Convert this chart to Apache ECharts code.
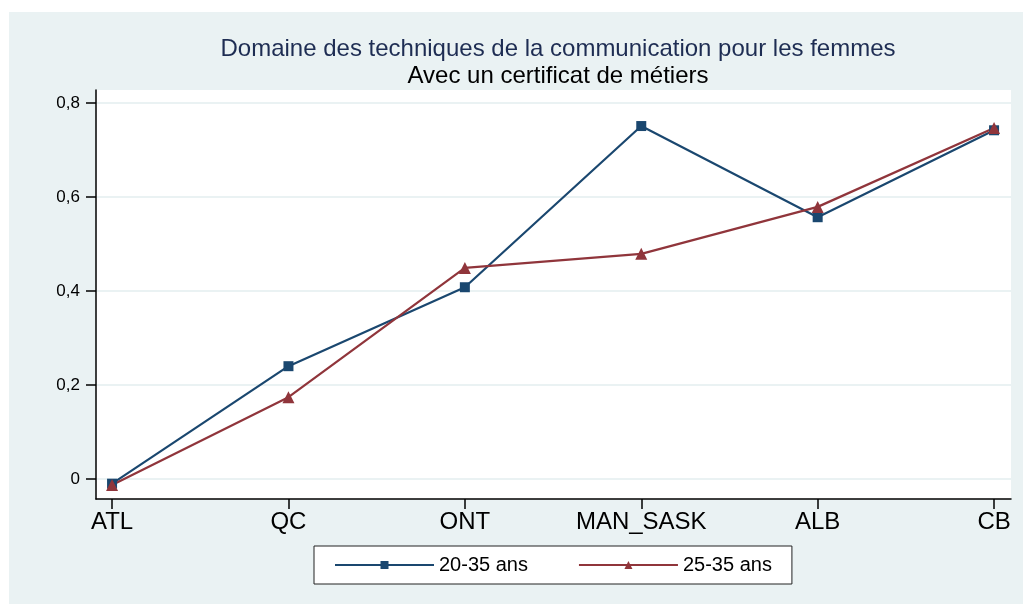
<!DOCTYPE html>
<html>
<head>
<meta charset="utf-8">
<script src="https://cdn.jsdelivr.net/npm/echarts@6/dist/echarts.min.js"></script>
<style>
  html, body { margin: 0; padding: 0; background: #fff; }
  #chart { width: 1023px; height: 604px; }
</style>
</head>
<body>
<div id="chart"></div>
<script>
// region categories on the x axis
const regions = ["ATL", "QC", "ONT", "MAN_SASK", "ALB", "CB"];
// values
const women2035 = [-0.01, 0.24, 0.408, 0.751, 0.557, 0.742];
const women2535 = [-0.013, 0.174, 0.449, 0.479, 0.579, 0.747];
const yTicks = [0, 0.2, 0.4, 0.6, 0.8];

const chart = echarts.init(document.getElementById("chart"));

const toPoints = (vals) => vals.map((v, i) => [i, v]);

const option = {
  backgroundColor: "#ffffff",
  animation: false,
  graphic: [
    {
      type: "rect",
      z: -10,
      shape: { x: 9, y: 12, width: 1014, height: 592 },
      style: { fill: "#eaf2f3" },
    },
  ],
  title: {
    text: "Domaine des techniques de la communication pour les femmes",
    subtext: "Avec un certificat de métiers",
    left: 553,
    top: 32,
    textAlign: "center",
    itemGap: 3,
    textStyle: {
      fontFamily: "Liberation Sans",
      fontWeight: "normal",
      fontSize: 24,
      color: "#1e2d53",
    },
    subtextStyle: {
      fontFamily: "Liberation Sans",
      fontSize: 24,
      color: "#000000",
    },
  },
  legend: {
    left: 314,
    top: 546,
    padding: [9, 20, 9, 20],
    itemGap: 50,
    itemWidth: 99,
    itemHeight: 10,
    backgroundColor: "#ffffff",
    borderColor: "#222222",
    borderWidth: 1,
    borderRadius: 0,
    textStyle: {
      fontFamily: "Liberation Sans",
      fontSize: 20,
      color: "#000000",
    },
    data: ["20-35 ans", "25-35 ans"],
  },
  grid: {
    left: 96,
    top: 90,
    width: 915,
    height: 409,
    show: true,
    backgroundColor: "#ffffff",
    borderWidth: 0,
  },
  xAxis: {
    type: "value",
    min: -0.091,
    max: 5.096,
    axisLine: { show: true, onZero: false, lineStyle: { color: "#000000", width: 1.5 } },
    axisTick: {
      show: true,
      length: 10,
      customValues: regions.map((r, i) => i),
      lineStyle: { color: "#000000", width: 1.5 },
    },
    axisLabel: {
      customValues: regions.map((r, i) => i),
      formatter: (v) => regions[Math.round(v)],
      fontFamily: "Liberation Sans",
      fontSize: 24,
      color: "#000000",
      margin: 11,
    },
    splitLine: { show: false },
  },
  yAxis: {
    type: "value",
    min: -0.0426,
    max: 0.8277,
    axisLine: { show: true, onZero: false, lineStyle: { color: "#000000", width: 1.5 } },
    axisTick: {
      show: true,
      length: 10,
      customValues: yTicks,
      lineStyle: { color: "#000000", width: 1.5 },
    },
    axisLabel: {
      customValues: yTicks,
      formatter: (v) => (v === 0 ? "0" : v.toFixed(1).replace(".", ",")),
      fontFamily: "Liberation Sans",
      fontSize: 17,
      color: "#000000",
      margin: 16,
    },
    splitLine: {
      show: true,
      lineStyle: { color: "#eaf2f3", width: 2 },
    },
  },
  series: [
    {
      name: "20-35 ans",
      type: "line",
      data: toPoints(women2035),
      symbol: "rect",
      symbolSize: 10,
      itemStyle: { color: "#1a476f" },
      lineStyle: { color: "#1a476f", width: 2.2 },
    },
    {
      name: "25-35 ans",
      type: "line",
      data: toPoints(women2535),
      symbol: "triangle",
      symbolSize: 12,
      itemStyle: { color: "#90353b" },
      lineStyle: { color: "#90353b", width: 2.2 },
    },
  ],
};

chart.setOption(option);
</script>
</body>
</html>
